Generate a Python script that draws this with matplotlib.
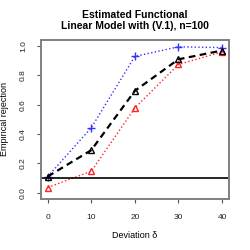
import matplotlib
matplotlib.use('Agg')
import matplotlib.pyplot as plt

plt.rcParams['font.family'] = ['Liberation Sans', 'DejaVu Sans']

deviation = [0, 10, 20, 30, 40]
black_vals = [0.11, 0.29, 0.695, 0.91, 0.97]
blue_vals = [0.11, 0.443, 0.93, 0.995, 0.99]
red_vals = [0.035, 0.146, 0.578, 0.875, 0.96]
level = 0.1

yticks = [0.0, 0.2, 0.4, 0.6, 0.8, 1.0]

fig = plt.figure(figsize=(2.5, 2.5), dpi=100)
ax = fig.add_axes([0.163, 0.206, 0.753, 0.633])

ax.plot(deviation, blue_vals, color='#3333ff', ls=':', lw=1.0,
        marker='+', ms=6, mew=1.0)
ax.plot(deviation, red_vals, color='#ff2222', ls=':', lw=1.0,
        marker='^', ms=5, mfc='none', mew=1.0)
ax.plot(deviation, black_vals, color='black', ls=(0, (3, 2)), lw=1.6,
        marker='^', ms=5, mfc='none', mew=1.0)
ax.axhline(level, color='black', lw=1.2)

ax.set_xlim(-1.6, 41.6)
ax.set_ylim(-0.04, 1.04)
ax.set_xticks(deviation)
ax.set_yticks(yticks)
ax.set_yticklabels([f'{v:.1f}' for v in yticks], rotation=90, va='center')
ax.tick_params(labelsize=6, length=3, width=0.8, color='#555555',
               labelcolor='#222222')
ax.tick_params(axis='x', pad=8)
ax.tick_params(axis='y', pad=7)

for s in ax.spines.values():
    s.set_color('#808080')
    s.set_linewidth(1.4)

ax.set_xlabel('Deviation δ', fontsize=6.5, labelpad=7)
ax.set_ylabel('Empirical rejection', fontsize=6.5, labelpad=8)
ax.set_title('Estimated Functional\nLinear Model with (V.1), n=100',
             fontsize=7.5, fontweight='bold', pad=8, linespacing=1.1)

fig.savefig('out.png', dpi=100, facecolor='white')
